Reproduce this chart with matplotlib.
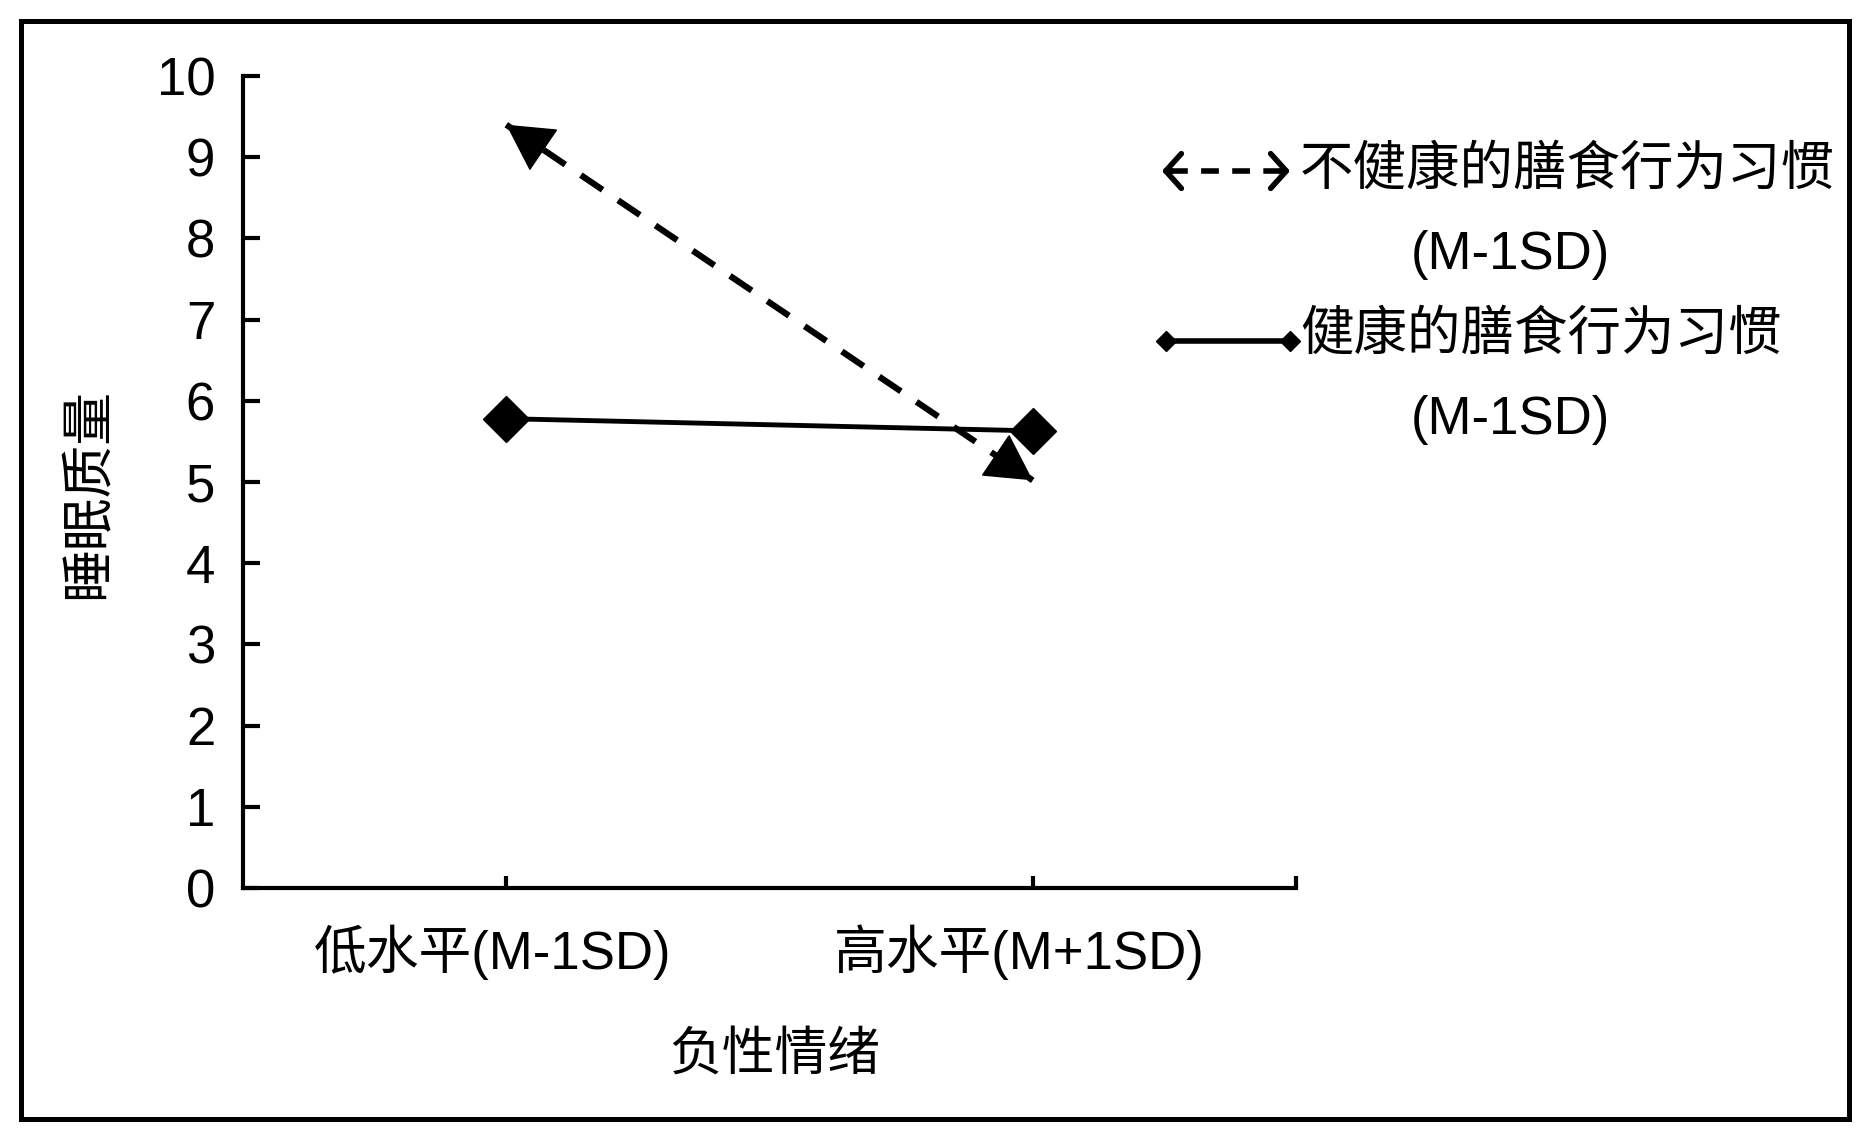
import matplotlib
matplotlib.use("Agg")
import matplotlib.pyplot as plt
from matplotlib.lines import Line2D
from matplotlib.patches import Rectangle, FancyArrowPatch
from matplotlib.transforms import ScaledTranslation

plt.rcParams['font.family'] = ['Liberation Sans', 'Noto Sans CJK SC']

# data
categories = ['低水平(M-1SD)', '高水平(M+1SD)']
unhealthy = [9.4, 5.02]     # 不健康的膳食行为习惯 (dashed arrow)
healthy = [5.78, 5.63]      # 健康的膳食行为习惯 (solid, diamonds)
yticks = list(range(0, 11))
label_unhealthy = '不健康的膳食行为习惯'
label_healthy = '健康的膳食行为习惯'
label_sd = '(M-1SD)'

W, H = 1870, 1140
fig = plt.figure(figsize=(W / 100, H / 100), dpi=100)
ax = fig.add_axes([243 / W, 1 - 888 / H, (1296 - 243) / W, (888 - 76) / H])

x = list(range(len(categories)))

# dashed line, then solid heads at both ends
ax.plot(x, unhealthy, color='black', lw=4.5, linestyle=(0, (4.2, 3.0)))
ends = [(0, 1), (1, 0)]
for a, b in ends:
    tip = (x[a], unhealthy[a])
    back = (x[a] + 0.06 * (x[b] - x[a]), unhealthy[a] + 0.06 * (unhealthy[b] - unhealthy[a]))
    ax.annotate('', xy=tip, xytext=back,
                arrowprops=dict(arrowstyle='-|>,head_length=0.62,head_width=0.34',
                                lw=1, color='black', mutation_scale=50,
                                shrinkA=0, shrinkB=0))

ax.plot(x, healthy, color='black', lw=3.5, marker='D', ms=23, zorder=5)

ax.set_xlim(-0.5, 1.5)
ax.set_ylim(0, 10)
ax.set_yticks(yticks)
ax.set_xticks(x + [1.5])
ax.set_xticklabels(categories + [''])
ax.spines['top'].set_visible(False)
ax.spines['right'].set_visible(False)
for s in ['left', 'bottom']:
    ax.spines[s].set_linewidth(3)
ax.tick_params(axis='y', direction='in', length=12, width=3, pad=20, labelsize=38)
ax.tick_params(axis='x', direction='in', length=9, width=3, pad=26, labelsize=38)
for lab in ax.get_xticklabels():
    lab.set_transform(lab.get_transform() + ScaledTranslation(-0.14, 0, fig.dpi_scale_trans))

ax.set_ylabel('睡眠质量', fontsize=38)
ax.yaxis.set_label_coords(-0.123, 0.486)
ax.set_xlabel('负性情绪', fontsize=38)
ax.xaxis.set_label_coords(0.505, -0.175)

# legend drawn by hand
def fx(px):
    return px / W

def fy(py):
    return 1 - py / H

fig.add_artist(Line2D([fx(1170), fx(1284)], [fy(171), fy(171)], transform=fig.transFigure,
                      color='black', lw=4, linestyle=(0, (3.2, 2.4))))
for tip, back in [(1162, 1172), (1290, 1280)]:
    fig.add_artist(FancyArrowPatch((fx(back), fy(171)), (fx(tip), fy(171)),
                                   transform=fig.transFigure,
                                   arrowstyle='->,head_length=0.45,head_width=0.5',
                                   mutation_scale=25, lw=4, color='black',
                                   shrinkA=0, shrinkB=0, capstyle='round', joinstyle='round'))
fig.text(fx(1300), fy(171), label_unhealthy, fontsize=38.5, va='center', ha='left')
fig.text(fx(1510), fy(255), label_sd, fontsize=38, va='center', ha='center')

fig.add_artist(Line2D([fx(1166), fx(1290)], [fy(341), fy(341)], transform=fig.transFigure,
                      color='black', lw=4, marker='D', ms=10))
fig.text(fx(1300), fy(336), label_healthy, fontsize=38.5, va='center', ha='left')
fig.text(fx(1510), fy(420), label_sd, fontsize=38, va='center', ha='center')

# outer frame
fig.add_artist(Rectangle((fx(21), fy(1119)), fx(1849) - fx(21), fy(21) - fy(1119),
                         transform=fig.transFigure, fill=False, lw=3.6, edgecolor='black'))

fig.savefig('out.png', dpi=100)
